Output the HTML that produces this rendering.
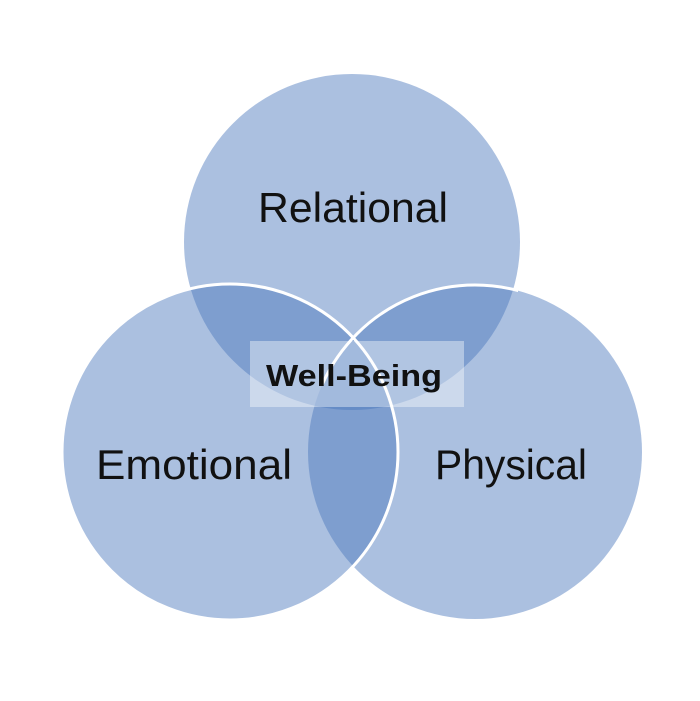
<!DOCTYPE html>
<html><head><meta charset="utf-8"><style>body{margin:0;background:#fff}svg{display:block}</style></head>
<body>
<svg width="700" height="701" viewBox="0 0 700 701" xmlns="http://www.w3.org/2000/svg">
<defs><clipPath id="c"><rect x="300" y="0" width="218" height="385"/></clipPath></defs>
<rect width="700" height="701" fill="#fff"/>
<g fill="rgb(74,119,188)" fill-opacity="0.464">
<circle cx="352" cy="242" r="168"/>
<circle cx="230" cy="452" r="168"/>
<circle cx="475" cy="452" r="167"/>
</g>
<g fill="none" stroke="#fff" stroke-width="3">
<circle cx="230" cy="452" r="168"/>
<circle cx="475" cy="452" r="167" clip-path="url(#c)"/>
</g>
<rect x="250" y="341" width="214" height="66" fill="#fff" fill-opacity="0.4"/>
<g font-family="Liberation Sans, sans-serif" fill="#111" text-anchor="middle">
<text x="353" y="222" font-size="42" textLength="190" lengthAdjust="spacingAndGlyphs">Relational</text>
<text x="194" y="479" font-size="42" textLength="196" lengthAdjust="spacingAndGlyphs">Emotional</text>
<text x="511" y="479" font-size="42" textLength="152" lengthAdjust="spacingAndGlyphs">Physical</text>
<text x="354" y="386" font-size="31" font-weight="bold" textLength="176" lengthAdjust="spacingAndGlyphs">Well-Being</text>
</g>
</svg>
</body></html>
